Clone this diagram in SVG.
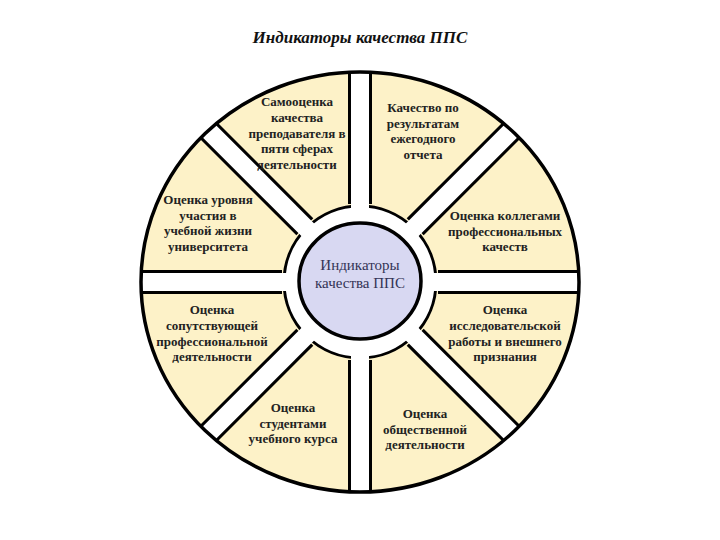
<svg xmlns="http://www.w3.org/2000/svg" width="720" height="540" viewBox="0 0 720 540">
<style>
.t{font-family:"Liberation Serif",serif;font-weight:bold;font-size:13px;fill:#222;text-anchor:middle}
.h{font-family:"Liberation Serif",serif;font-size:15px;fill:#333355;text-anchor:middle}
.ttl{font-family:"Liberation Serif",serif;font-weight:bold;font-style:italic;font-size:17px;fill:#111;text-anchor:middle}
.gb{stroke:#000;stroke-width:24}
.gw{stroke:#fff;stroke-width:18}
</style>
<defs><clipPath id="c"><ellipse cx="360" cy="282" rx="219" ry="210"/></clipPath></defs>
<rect width="720" height="540" fill="#fff"/>
<text class="ttl" x="360" y="43">Индикаторы качества ППС</text>
<g id="wheel">
<ellipse cx="360" cy="282" rx="219" ry="210" fill="#fdf2c8"/>
<circle cx="360" cy="282" r="76" fill="#fff" stroke="#000" stroke-width="3"/>
<g clip-path="url(#c)">
<g class="gb">
<line x1="360" y1="204" x2="360" y2="0"/><line x1="360" y1="360" x2="360" y2="560"/>
<line x1="282" y1="282" x2="100" y2="282"/><line x1="438" y1="282" x2="620" y2="282"/>
<line x1="304.8" y1="226.8" x2="60" y2="-18"/><line x1="415.2" y1="337.2" x2="660" y2="582"/>
<line x1="415.2" y1="226.8" x2="660" y2="-18"/><line x1="304.8" y1="337.2" x2="60" y2="582"/>
</g>
<g class="gw">
<line x1="360" y1="212" x2="360" y2="0"/><line x1="360" y1="352" x2="360" y2="560"/>
<line x1="290" y1="282" x2="100" y2="282"/><line x1="430" y1="282" x2="620" y2="282"/>
<line x1="310.5" y1="232.5" x2="60" y2="-18"/><line x1="409.5" y1="331.5" x2="660" y2="582"/>
<line x1="409.5" y1="232.5" x2="660" y2="-18"/><line x1="310.5" y1="331.5" x2="60" y2="582"/>
</g>
</g>
<ellipse cx="360" cy="282" rx="219" ry="210" fill="none" stroke="#000" stroke-width="3.5"/>
</g>
<g id="hub">
<ellipse cx="360" cy="281" rx="61" ry="58" fill="#d8d8f2" stroke="#000" stroke-width="3.5"/>
<text class="h" x="360" y="270">Индикаторы</text><text class="h" x="360" y="288">качества ППС</text>
</g>
<g id="n1"><text class="t"><tspan x="297" y="106">Самооценка</tspan><tspan x="297" y="122">качества</tspan><tspan x="297" y="138">преподавателя в</tspan><tspan x="297" y="153">пяти сферах</tspan><tspan x="297" y="169">деятельности</tspan></text></g>
<g id="n2"><text class="t"><tspan x="423" y="112">Качество по</tspan><tspan x="423" y="128">результатам</tspan><tspan x="423" y="143">ежегодного</tspan><tspan x="423" y="159">отчета</tspan></text></g>
<g id="n3"><text class="t"><tspan x="208" y="204">Оценка уровня</tspan><tspan x="208" y="220">участия в</tspan><tspan x="208" y="235">учебной жизни</tspan><tspan x="208" y="251">университета</tspan></text></g>
<g id="n4"><text class="t"><tspan x="505" y="220">Оценка коллегами</tspan><tspan x="505" y="236">профессиональных</tspan><tspan x="505" y="251">качеств</tspan></text></g>
<g id="n5"><text class="t"><tspan x="212" y="314">Оценка</tspan><tspan x="212" y="330">сопутствующей</tspan><tspan x="212" y="346">профессиональной</tspan><tspan x="212" y="361">деятельности</tspan></text></g>
<g id="n6"><text class="t"><tspan x="505" y="314">Оценка</tspan><tspan x="505" y="330">исследовательской</tspan><tspan x="505" y="346">работы и внешнего</tspan><tspan x="505" y="361">признания</tspan></text></g>
<g id="n7"><text class="t"><tspan x="293" y="412">Оценка</tspan><tspan x="293" y="428">студентами</tspan><tspan x="293" y="443">учебного курса</tspan></text></g>
<g id="n8"><text class="t"><tspan x="425" y="418">Оценка</tspan><tspan x="425" y="434">общественной</tspan><tspan x="425" y="449">деятельности</tspan></text></g>
<g id="connectors"/>
</svg>
